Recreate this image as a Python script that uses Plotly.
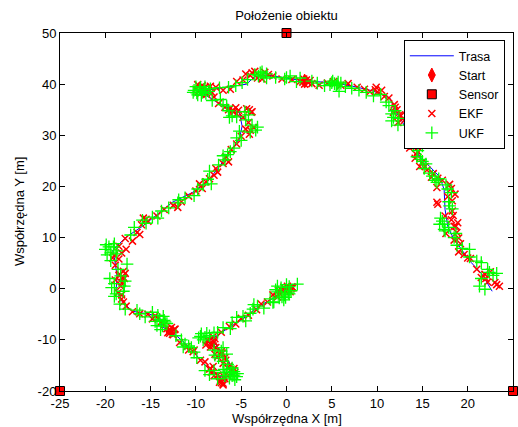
import plotly.graph_objects as go

# True trajectory ("Trasa")
path_x = [0.0, -1.1, -3.0, -4.9, -6.6, -8.3, -7.4, -6.3, -6.0, -7.1, -8.2, -9.3, -10.2, -11.3,
          -12.6, -13.7, -14.0, -15.1, -17.0, -18.1, -18.8, -18.7, -19.0, -19.2, -17.7, -15.9,
          -14.0, -12.6, -10.4, -8.8, -7.4, -6.3, -5.2, -4.9, -5.2, -6.6, -7.7, -9.6, -6.6, -4.4,
          -3.5, -2.2, -0.4, 2.0, 5.1, 7.3, 9.5, 11.4, 12.1, 12.8, 13.9, 14.7, 15.8, 16.9, 17.4,
          17.5, 17.8, 18.3, 19.3, 20.4, 21.6, 22.7]
path_y = [0.0, -1.5, -3.4, -6.0, -7.9, -9.9, -11.8, -14.4, -16.7, -17.3, -16.3, -14.4, -12.4, -10.5,
          -8.5, -7.5, -5.6, -5.0, -4.4, -2.6, -0.1, 2.4, 6.1, 7.5, 10.1, 12.2,
          14.9, 16.9, 18.8, 20.8, 23.9, 26.7, 29.2, 31.8, 34.5, 35.5, 36.5, 38.6, 39.4, 40.0,
          41.5, 41.8, 41.3, 40.6, 40.3, 39.6, 38.7, 37.3, 34.5, 32.6, 28.6, 25.9, 23.9, 21.9, 19.4,
          15.5, 12.2, 10.3, 7.7, 5.1, 2.8, -0.5]

start_x = [2.0]
start_y = [40.6]

sensor_x = [0, -25, 25]
sensor_y = [50, -20, -20]

# EKF position estimates
ekf_x = [0.3, 0.6, -0.2, 0.4, -0.8, -1.5, -2.1, -2.8, -3.3, -4.2, -5.0, -5.6, -6.3, -7.2, -8.1, -8.6, -8.3, -8.0,
         -7.8, -7.2, -6.8, -7.0, -6.4, -8.5, -8.3, -7.6, -6.2, -5.7, -6.8, -7.0, -7.3, -8.0,
         -9.5, -9.0, -10.3, -10.8, -11.8, -12.5, -12.8, -13.2, -13.5, -12.9,
         -14.5, -15.3, -16.2, -17.0, -17.7, -18.2, -18.6, -18.3, -18.9, -18.4, -18.0, -18.9, -18.5, -19.0,
         -18.5, -17.8, -17.0, -16.5, -16.0, -15.3, -14.3, -13.5, -12.5, -11.6, -10.8, -10.0, -9.3, -8.9, -8.5,
         -17.7, -15.5,
         -8.0, -7.8, -7.0, -6.7, -6.1, -5.5, -5.0, -4.5, -4.2, -4.8, -5.5, -6.0, -4.1, -3.9, -4.1,
         -6.8, -7.5, -8.0, -9.3, -10.0, -8.8, -9.5, -7.8, -7.0, -6.2, -5.5, -4.5, -3.8, -4.8,
         -3.2, -2.4, -1.5, -0.5, 0.6, 1.5, 2.2, 2.8, 3.6, 4.5, 5.2, 6.0, 6.8, 7.8, 8.6, 9.2, 9.9, 10.0, 10.8, 11.3,
         11.9, 12.2, 12.5, 11.8, 12.8, 12.3, 13.5, 13.9, 14.0, 13.6, 14.3, 14.5, 14.2, 14.7, 15.0, 15.5, 16.2,
         16.7, 17.2, 16.6,
         18.0, 16.6, 17.8, 18.3, 18.3, 17.5, 18.5, 18.2, 17.6, 18.8, 18.5, 19.2, 19.0, 19.6, 20.3, 21.0,
         21.9, 21.5, 22.2, 23.0, 23.5, 23.2, 16.7, 18.7,
         0.2, -0.3, 0.5, -1.0, -0.6,
         -8.4, -8.1, -8.7, -7.9,
         -7.3, -6.7, -7.1,
         -6.5, -7.4, -6.9, -5.9,
         -11.0, -12.7, -13.0, -12.4,
         -14.2, -13.8,
         -18.0, -18.4, -17.8, -18.2, -18.0,
         -19.2, -18.2,
         -16.2, -15.8, -12.0, -9.6,
         -7.6, -6.4,
         -5.8, -6.2, -5.3, -4.4, -3.8, -4.0, -3.6,
         -9.0, -8.4, -9.8, -8.2,
         -4.0, -3.5, -2.0, -2.7,
         1.8, 2.4, 1.9, 2.6, 2.0,
         9.8, 10.5, 12.0, 12.6, 13.0,
         15.3, 16.0, 18.2, 18.6,
         18.4, 18.9, 19.0, 20.0, 22.0, 22.5,
         -12.9, -13.1, -12.6, -12.3,
         -8.6, -8.2, -8.9, -8.4,
         -7.6, -7.9, -8.1, -8.4,
         -7.0, -7.2, -5.8, -10.2, -14.8,
         -17.9, -18.5, -18.1,
         -5.9, -6.4, -5.6, -9.2, -9.7,
         0.1, 0.7, -0.9]
ekf_y = [0.2, 0.4, -0.3, -0.6, -0.9, -1.2, -2.6, -3.0, -4.1, -5.2, -5.8, -6.9, -7.4, -8.5, -9.4, -10.2, -10.9, -10.4,
         -11.5, -12.3, -13.5, -14.6, -15.2, -15.7, -16.3, -16.9, -15.9, -16.4, -17.6, -18.5, -17.9, -17.0,
         -14.0, -14.3, -12.3, -12.0, -10.5, -9.0, -8.2, -7.8, -7.0, -8.7,
         -5.3, -5.0, -4.9, -4.5, -3.4, -2.0, -0.8, 0.5, 1.7, 2.8, 3.4, 4.6, 5.8, 6.5,
         8.3, 9.8, 9.3, 11.0, 12.5, 13.2, 14.2, 15.5, 16.3, 17.0, 18.1, 19.1, 19.6, 20.9, 21.5,
         7.7, 13.6,
         22.2, 23.5, 24.5, 25.8, 27.2, 28.3, 29.8, 31.2, 32.5, 33.5, 34.2, 34.8, 35.0, 34.5, 30.2,
         35.5, 36.2, 37.5, 39.7, 39.0, 38.0, 38.2, 39.4, 38.8, 39.0, 40.5, 42.0, 42.2, 40.8,
         41.2, 42.3, 41.6, 41.0, 40.9, 40.5, 40.8, 40.1, 39.8, 40.2, 40.5, 39.8, 40.1, 39.4, 39.0, 38.5, 39.4, 38.4, 37.6, 37.3,
         36.0, 35.0, 34.0, 34.5, 33.2, 32.5, 30.0, 27.9, 28.2, 27.5, 26.3, 26.8, 25.5, 23.9, 24.7, 23.2, 22.5,
         21.6, 21.2, 19.8,
         20.4, 16.9, 18.0, 17.2, 15.2, 14.2, 12.2, 13.5, 10.8, 11.0, 9.5, 8.8, 7.2, 6.7, 5.9, 3.8,
         2.8, 2.2, 1.3, 1.2, 0.5, 0.8, 16.5, 12.2,
         0.0, 0.3, 0.1, -1.6, -0.2,
         -10.6, -11.2, -10.0, -9.8,
         -13.0, -14.0, -12.6,
         -17.0, -18.3, -17.2, -16.0,
         -11.3, -7.6, -8.4, -8.0,
         -5.8, -6.4,
         2.2, 1.5, 3.0, -1.2, -2.6,
         6.0, 7.0,
         10.6, 13.8, 15.9, 20.5,
         22.8, 24.8,
         34.6, 35.3, 34.9, 35.2, 34.6, 31.0, 31.5,
         39.4, 39.6, 39.9, 38.3,
         41.7, 42.5, 41.9, 41.0,
         40.4, 40.3, 41.0, 40.7, 40.0,
         38.9, 38.8, 35.5, 33.8, 32.9,
         23.9, 21.8, 19.6, 18.5,
         14.3, 12.9, 9.9, 6.0, 2.0, 3.3,
         -8.0, -8.6, -8.9, -7.9,
         -10.3, -10.8, -11.0, -11.4,
         -13.3, -12.8, -15.2, -15.6,
         -18.8, -18.4, -15.6, -12.0, -5.9,
         2.0, 2.6, 1.2,
         34.9, 35.0, 35.4, 39.2, 38.6,
         0.5, 0.2, -0.4]

# UKF position estimates
ukf_x = [0.0, 1.2, 0.5, -0.5, -0.2, -1.0, -1.8, -2.5, -3.6, -3.7, -4.0, -4.5, -5.5, -6.0, -6.2, -7.0, -7.6, -8.8, -9.5, -9.2,
         -1.5, 0.3, -1.0,
         -8.0, -7.0, -6.6, -7.5, -6.9, -6.0, -5.8, -5.5, -6.3, -6.6, -7.6, -8.5, -9.0, -8.0,
         -9.9, -10.5, -11.2, -11.6, -12.2, -13.9, -14.3, -13.4, -14.0, -13.6,
         -14.8, -15.6, -16.5, -17.8, -18.4, -19.0, -19.3, -18.0, -19.5, -17.8, -18.6, -17.6, -19.4, -18.8, -20.0, -19.6,
         -19.0, -17.2, -16.8, -15.5, -14.8, -13.8, -13.0, -12.0, -11.2, -10.2, -9.8, -9.2, -8.3,
         -8.5, -7.5, -7.0, -6.5, -5.8, -5.5, -5.2, -3.8, -4.5, -5.5, -4.2, -3.2, -6.6, -6.0,
         -7.0, -7.3, -8.2, -9.9, -10.2, -9.0, -9.4, -8.6, -7.4, -6.4, -5.6, -4.9, -4.3, -2.9, -2.5, -2.2,
         -1.2, -0.2, 0.4, 1.1, 2.8, 3.4, 4.2, 5.0, 5.6, 5.1, 5.8, 6.5, 7.2, 8.0, 8.8, 9.6, 10.4, 11.0,
         11.3, 11.8, 11.6, 12.3, 14.0, 15.0, 14.5, 14.8, 14.4, 15.0, 15.2, 15.8, 16.1, 16.4, 16.6, 17.6, 17.8,
         18.2, 17.9, 18.3, 17.2, 17.9, 17.5, 16.9, 17.4, 18.5, 18.8, 19.4, 20.2, 20.2, 21.5, 22.2, 23.2,
         21.5, 22.8, 21.3, 21.9,
         -0.8, -0.3, 0.2, -1.2, -0.6, -0.1, -1.4, 0.3,
         -3.2, -4.8,
         -9.4, -9.0, -8.5, -9.7, -8.0,
         -7.2, -7.9, -7.0, -6.5,
         -6.2, -5.8, -5.4, -6.0, -6.8, -5.7, -7.0,
         -10.8, -11.4, -10.2,
         -13.5, -14.2, -13.2, -14.5, -13.7,
         -16.2, -18.8, -19.0, -18.3, -17.9,
         -19.4, -19.8, -19.1, -18.7, -19.9,
         -15.9, -14.2, -11.9, -8.7,
         -6.2, -6.8, -5.0,
         -6.4, -6.3, -4.6, -4.0, -3.4,
         -9.6, -10.0, -9.3, -9.8, -8.9, -9.1, -8.4, -10.3, -9.5,
         -3.5, -2.7, -3.1, -2.2,
         5.3, 5.5, 5.7, 4.8, 6.0,
         0.0, 1.5,
         12.0, 12.4, 11.6,
         15.4, 16.8, 17.0, 17.4,
         18.0, 18.7, 21.0, 22.4]
ukf_y = [0.8, 0.9, -0.4, -1.6, -1.2, -0.6, -2.0, -3.8, -3.1, -4.0, -4.8, -6.3, -5.6, -6.6, -7.8, -7.6, -8.5, -8.7, -9.3, -10.0,
         -2.7, -1.0, 0.5,
         -12.0, -11.5, -12.8, -13.5, -15.8, -15.5, -16.9, -17.2, -17.5, -16.3, -17.6, -16.8, -16.0, -16.0,
         -13.5, -11.5, -10.8, -10.0, -9.2, -8.0, -7.2, -6.5, -6.0, -5.4,
         -4.6, -5.5, -4.2, -4.0, -3.0, -1.5, 0.2, -0.5, 2.0, 1.5, 3.8, 4.8, 5.5, 6.8, 7.7, 8.2,
         8.8, 10.5, 12.0, 12.8, 14.0, 15.2, 15.8, 16.8, 17.8, 18.2, 19.5, 20.3, 20.5,
         23.0, 24.2, 26.0, 26.2, 27.5, 29.5, 30.8, 32.0, 33.0, 33.6, 34.0, 31.6, 35.7, 33.8,
         36.0, 37.0, 36.8, 38.3, 38.8, 39.5, 37.8, 38.6, 39.3, 39.4, 39.7, 40.3, 40.9, 42.2, 41.5, 42.0,
         41.3, 41.0, 41.6, 40.5, 40.6, 40.2, 39.7, 40.3, 40.0, 40.6, 38.6, 39.5, 39.2, 38.8, 38.4, 37.7, 38.0, 36.5,
         35.8, 33.5, 32.8, 32.0, 27.9, 27.9, 27.0, 25.3, 25.8, 24.9, 23.5, 22.6, 22.0, 21.2, 20.8, 20.3, 19.5,
         18.8, 17.0, 15.6, 13.2, 12.0, 11.3, 12.6, 11.6, 10.0, 8.5, 7.9, 7.7, 6.2, 5.1, 3.8, 3.0,
         2.0, 2.6, 0.5, -0.1,
         -1.8, -2.2, -0.8, -0.2, 0.2, -1.7, -2.6, 0.4,
         -3.4, -5.4,
         -8.8, -9.5, -9.2, -9.6, -8.6,
         -12.2, -13.0, -14.2, -14.8,
         -16.4, -16.2, -16.6, -17.0, -17.0, -17.8, -16.4,
         -11.2, -11.4, -12.4,
         -6.2, -5.2, -6.8, -6.4, -7.3,
         -4.9, -1.0, 1.0, 2.5, 0.5,
         7.0, 6.6, 8.2, 7.4, 8.6,
         13.4, 13.8, 17.4, 21.4,
         26.8, 25.2, 29.0,
         34.8, 33.5, 34.6, 30.6, 31.0,
         38.9, 39.5, 38.4, 37.9, 38.2, 39.0, 39.1, 38.4, 39.4,
         41.9, 42.4, 41.6, 41.2,
         40.1, 39.7, 40.4, 39.9, 40.2,
         41.3, 41.2,
         34.8, 33.3, 34.2,
         24.4, 21.5, 13.8, 12.6,
         16.2, 10.8, 5.4, 3.2]

x_ticks = [-25, -20, -15, -10, -5, 0, 5, 10, 15, 20, 25]
x_tick_text = ["-25", "-20", "-15", "-10", "-5", "0", "5", "10", "15", "20", "25"]
y_ticks = [-20, -10, 0, 10, 20, 30, 40, 50]
y_tick_text = ["-20", "-10", "0", "10", "20", "30", "40", "50"]

FONT = "Liberation Sans, Arial, sans-serif"

fig = go.Figure()
fig.add_trace(go.Scatter(x=path_x, y=path_y, mode="lines", name="Trasa",
                         line=dict(color="#0000ff", width=1)))
fig.add_trace(go.Scatter(x=start_x, y=start_y, mode="markers", name="Start",
                         marker=dict(symbol="diamond-tall", size=10, color="#ff0000",
                                     line=dict(color="#ff0000", width=1))))
fig.add_trace(go.Scatter(x=sensor_x, y=sensor_y, mode="markers", name="Sensor", cliponaxis=False,
                         marker=dict(symbol="square", size=9, color="#ff0000",
                                     line=dict(color="#000000", width=1))))
fig.add_trace(go.Scatter(x=ekf_x, y=ekf_y, mode="markers", name="EKF",
                         marker=dict(symbol="x-thin", size=7, color="#ff0000",
                                     line=dict(color="#ff0000", width=1.5))))
fig.add_trace(go.Scatter(x=ukf_x, y=ukf_y, mode="markers", name="UKF",
                         marker=dict(symbol="cross-thin", size=9, color="#00ff00",
                                     line=dict(color="#00ff00", width=1.3))))

axis_common = dict(showline=True, linecolor="black", linewidth=1, mirror="ticks",
                   ticks="inside", ticklen=5, tickcolor="black", tickwidth=1,
                   showgrid=False, zeroline=False,
                   tickfont=dict(family=FONT, size=13, color="black"))

fig.update_layout(
    width=518, height=427,
    margin=dict(l=60, r=5, t=33, b=36),
    paper_bgcolor="white", plot_bgcolor="white",
    font=dict(family=FONT, size=13, color="black"),
    title=dict(text="Położenie obiektu", x=0.553, xanchor="center", y=0.963, yanchor="middle",
               font=dict(family=FONT, size=13, color="black")),
    xaxis=dict(range=[-25, 25], tickvals=x_ticks, ticktext=x_tick_text, **axis_common),
    yaxis=dict(range=[-20, 50], tickvals=y_ticks, ticktext=y_tick_text, **axis_common),
    legend=dict(x=0.759, y=0.98, xanchor="left", yanchor="top",
                bgcolor="white", bordercolor="black", borderwidth=1,
                font=dict(family=FONT, size=12.5, color="black"),
                itemwidth=44, tracegroupgap=0),
    showlegend=True,
    annotations=[
        dict(text="Współrzędna X [m]", xref="paper", yref="paper", x=0.5, y=0,
             xanchor="center", yanchor="middle", yshift=-27, showarrow=False,
             font=dict(family=FONT, size=13, color="black")),
        dict(text="Współrzędna Y [m]", xref="paper", yref="paper", x=0, y=0.5,
             xanchor="center", yanchor="middle", xshift=-41, textangle=-90, showarrow=False,
             font=dict(family=FONT, size=13, color="black")),
    ],
)

fig.write_html("out.html")
